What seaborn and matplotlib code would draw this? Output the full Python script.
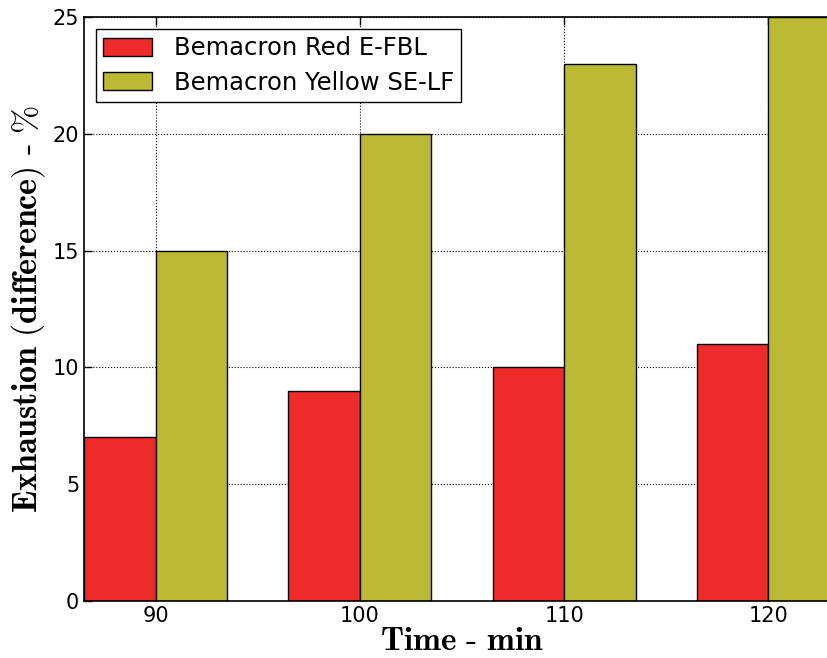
import pandas as pd
import seaborn as sns
import matplotlib.pyplot as plt

# ---------------------------- Data ----------------------------
times = ['90', '100', '110', '120']
red_values = [7, 9, 10, 11]
yellow_values = [15, 20, 23, 25]
dye_names = ['Bemacron Red E-FBL', 'Bemacron Yellow SE-LF']

df = pd.DataFrame({
    'Time': times * 2,
    'Exhaustion': red_values + yellow_values,
    'Dye': [dye_names[0]] * len(times) + [dye_names[1]] * len(times),
})

# ---------------------------- Style ----------------------------
sns.set_theme(style='ticks')
plt.rcParams['font.family'] = ['DejaVu Sans']
plt.rcParams['mathtext.fontset'] = 'cm'
plt.rcParams['text.color'] = 'black'
plt.rcParams['axes.labelcolor'] = 'black'
plt.rcParams['xtick.direction'] = 'in'
plt.rcParams['ytick.direction'] = 'in'

fig = plt.figure(figsize=(8.28, 6.58), dpi=100)
ax = fig.add_axes([84 / 828, 1 - 601 / 658, (840 - 84) / 828, (601 - 17) / 658])

sns.barplot(data=df, x='Time', y='Exhaustion', hue='Dye',
            palette=['#EE2B2B', '#BCBA35'], width=0.7, saturation=1,
            edgecolor='black', linewidth=1, errorbar=None, ax=ax)

ax.set_xlim(-0.35, 3.35)
ax.set_ylim(0, 25)
ax.set_yticks([0, 5, 10, 15, 20, 25])
ax.grid(True, linestyle=':', color='black', linewidth=0.8)
ax.set_axisbelow(True)
ax.tick_params(axis='both', labelsize=15, length=6, width=1, top=True, right=True,
               colors='black', labelcolor='black')
for s in ax.spines.values():
    s.set_linewidth(1.2)
    s.set_color('black')

ax.set_xlabel(r'$\mathbf{Time}\ \text{-}\ \mathbf{min}$', fontsize=24, labelpad=-1)
ax.set_ylabel(r'$\mathbf{Exhaustion\ (difference)}\ \text{-}\ \mathbf{\%}$', fontsize=24.5, labelpad=4)

leg = ax.legend(loc='upper left', fontsize=17.5, fancybox=False, framealpha=1,
                edgecolor='black', handlelength=2.0, handleheight=0.75,
                handletextpad=0.9, borderpad=0.3, labelspacing=0.42,
                borderaxespad=0.5, title=None)
leg.get_frame().set_linewidth(1)
for t in leg.get_texts():
    t.set_color('black')

fig.savefig('out.png', dpi=100)
